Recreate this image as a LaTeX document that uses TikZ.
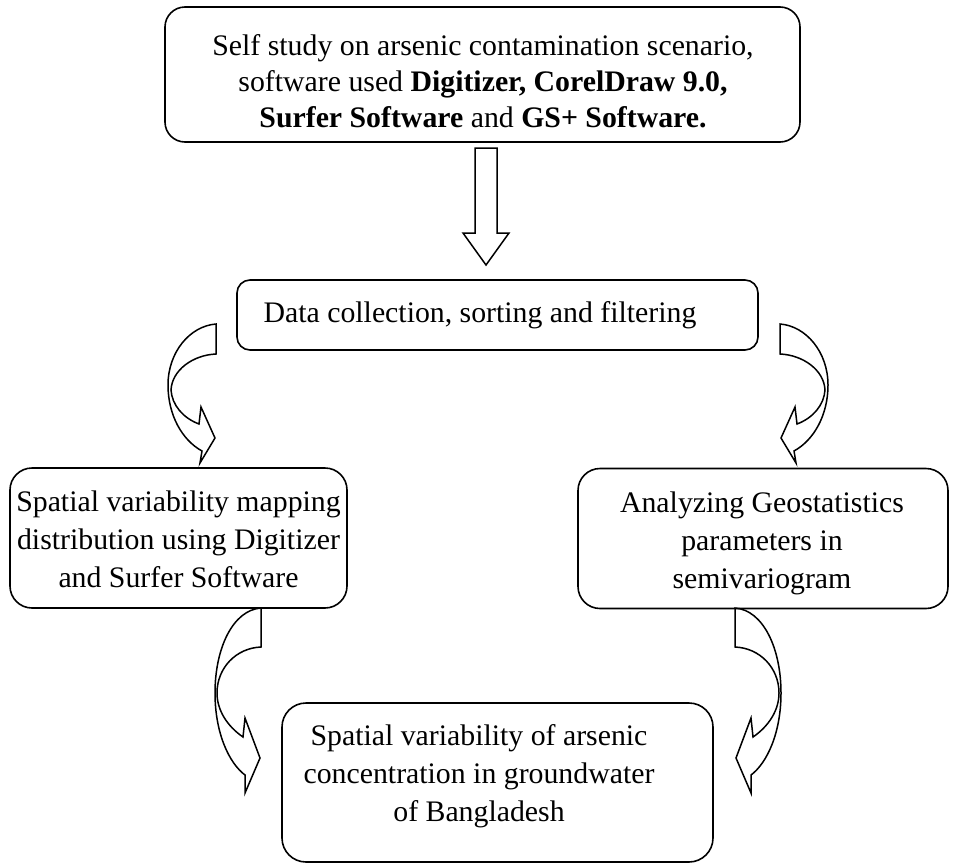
\documentclass[tikz,border=0pt]{standalone}
\usepackage{fontspec}
\setmainfont{Liberation Serif}
\begin{document}
\begin{tikzpicture}[x=1pt,y=-1pt,
  box/.style={draw, line width=1.6pt, inner sep=0pt},
  txt/.style={font=\fontsize{29.8}{37}\selectfont, anchor=base, inner sep=0pt},
  arr/.style={draw, line width=1.5pt, line join=miter},
  cupper/.pic={\draw[arr] (0,0) .. controls (-26,2) and (-48,28) .. (-48,61)
      .. controls (-48,91) and (-34,116) .. (-14,127) -- (-16,139) -- (-1,114)
      -- (-15,83) -- (-17,100) .. controls (-33,94) and (-44,81) .. (-45,66)
      .. controls (-44,46) and (-23,31) .. (0,30) -- cycle;},
  clower/.pic={\draw[arr] (0,0) .. controls (-28,2) and (-46,40) .. (-46,85)
      .. controls (-46,125) and (-32,155) .. (-16,167) -- (-16,185) -- (-1,150)
      -- (-16,110) -- (-18,129) .. controls (-34,118) and (-44,102) .. (-44,85)
      .. controls (-44,60) and (-25,40) .. (0,39) -- cycle;}
]
\useasboundingbox (0,0) rectangle (957,865);

% boxes
\node[box, rounded corners=20pt, minimum width=635pt, minimum height=135pt] (top) at (482.5,74.5) {};
\node[box, rounded corners=13pt, minimum width=521pt, minimum height=70pt] (data) at (497.5,315) {};
\node[box, rounded corners=22pt, minimum width=337pt, minimum height=140pt] (left) at (178.5,538) {};
\node[box, rounded corners=22pt, minimum width=370pt, minimum height=140pt] (right) at (763,538.5) {};
\node[box, rounded corners=24pt, minimum width=431pt, minimum height=159pt] (bottom) at (497.5,782.5) {};

% texts
\node[txt] (t1) at (483,55) {Self study on arsenic contamination scenario,};
\node[txt] (t2) at (483,91) {software used \textbf{Digitizer, CorelDraw 9.0,}};
\node[txt] (t3) at (483,127) {\textbf{Surfer Software} and \textbf{GS+ Software.}};
\node[txt] (d1) at (480,322) {Data collection, sorting and filtering};
\node[txt] (l1) at (178.5,511) {Spatial variability mapping};
\node[txt] (l2) at (178.5,549) {distribution using Digitizer};
\node[txt] (l3) at (178.5,587) {and Surfer Software};
\node[txt] (r1) at (762,512) {Analyzing Geostatistics};
\node[txt] (r2) at (762,550) {parameters in};
\node[txt] (r3) at (762,588) {semivariogram};
\node[txt] (b1) at (479,745) {Spatial variability of arsenic};
\node[txt] (b2) at (479,783) {concentration in groundwater};
\node[txt] (b3) at (479,821) {of Bangladesh};

% down block arrow from top to data
\coordinate (da) at (486,148);
\draw[arr] (da) ++(-11,0) -- ++(22,0) -- ++(0,85) -- ++(12,0) -- (486,265) -- (463,233) -- ++(12,0) -- cycle;

% curved arrows
\pic at (216,324) {cupper};
\pic[xscale=-1] at (780,324) {cupper};
\pic at (261,608) {clower};
\pic[xscale=-1] at (735,608) {clower};
\end{tikzpicture}
\end{document}
